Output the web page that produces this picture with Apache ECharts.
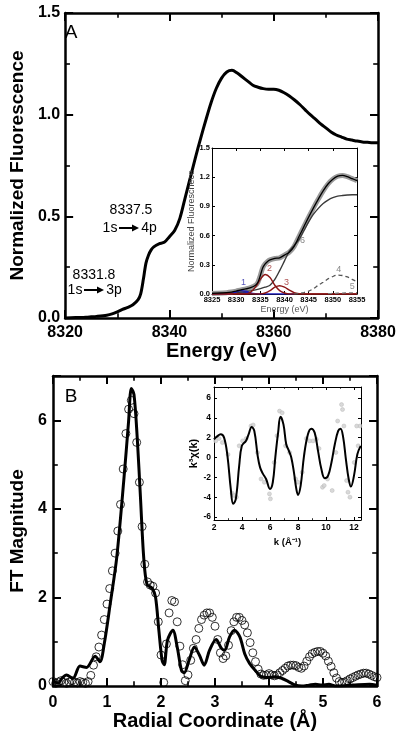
<!DOCTYPE html>
<html><head><meta charset="utf-8">
<script src="https://cdn.jsdelivr.net/npm/echarts@6/dist/echarts.min.js"></script>
<style>html,body{margin:0;padding:0;background:#fff}#c{width:400px;height:738px}</style>
</head><body><div id="c"></div>
<script>
// ---------- Panel A: XANES ----------
const xanesE = [8320,8322,8324,8325,8326,8328,8329,8330,8331,8332,8333,8334,8334.5,8335,8335.5,8336,8336.5,8337,8338,8339,
8340,8341,8342,8343,8344,8345,8346,8347,8348,8349,8350,8351,8352,8353,8354,8355,8356,8357,8358,8359,
8360,8361,8362,8363,8364,8365,8366,8367,8368,8369,8370,8371,8372,8373,8374,8375,8376,8377,8378,8379,8380];
const xanesMu = [0.000,0.002,0.004,0.006,0.008,0.014,0.020,0.030,0.042,0.052,0.065,0.090,0.120,0.190,0.270,0.310,0.335,0.350,0.365,0.372,
0.400,0.430,0.490,0.590,0.690,0.790,0.885,0.975,1.060,1.130,1.180,1.210,1.218,1.205,1.185,1.165,1.145,1.135,1.128,1.125,
1.125,1.120,1.108,1.092,1.072,1.050,1.025,1.000,0.978,0.955,0.935,0.915,0.900,0.890,0.880,0.875,0.870,0.866,0.864,0.862,0.862];

// inset A : fit components
const compE = [8325,8326,8327,8328,8329,8330,8331,8332,8333,8334,8335,8336,8337,8338,8339,8340,8341,8342,8343,8344,8345,8346,8347,8348,8349,8350,8351,8352,8353,8354,8355];
const peak1 = [0,0,0,0,0.005,0.02,0.035,0.03,0.012,0.003,0,0,0,0,0,0,0,0,null,null,null,null,null,null,null,null,null,null,null,null,null];
const peak2 = [0,0,0,0,0,0,0,0,0.02,0.07,0.15,0.20,0.17,0.09,0.035,0.01,0,0,0,0,0,0,0,0,0,0,0,0,0,0,0];
const peak3 = [0,0,0,0,0,0,0,0,0,0,0,0.01,0.035,0.07,0.085,0.07,0.04,0.015,0.004,0,0,0,0,0,0,0,0,0,0,0,0];
const peak4 = [null,null,null,null,null,null,null,null,null,null,null,null,null,null,null,null,null,0,0.005,0.015,0.03,0.055,0.09,0.12,0.155,0.18,0.195,0.19,0.175,0.15,0.125];
const peak5 = [null,null,null,null,null,null,null,null,null,null,null,null,null,null,null,null,null,null,null,null,null,null,null,null,0.004,0.006,0.008,0.01,0.012,0.013,0.014];
const edge6 = [0.005,0.006,0.008,0.010,0.012,0.015,0.020,0.025,0.032,0.042,0.055,0.070,0.090,0.150,0.240,0.340,0.440,0.500,0.560,0.650,0.740,0.820,0.880,0.930,0.965,0.990,1.005,1.012,1.017,1.020,1.020];
const compLabels = [['1',8331.5,0.116,'#2a2aa8'],['2',8336.9,0.264,'#9b2a2a'],['3',8340.4,0.12,'#9b2a2a'],['4',8351.2,0.254,'#666'],['5',8354.0,0.076,'#777'],['6',8343.7,0.547,'#666']];

// ---------- Panel B: EXAFS FT ----------
const ftR = [0.00,0.05,0.10,0.15,0.20,0.25,0.30,0.35,0.40,0.45,0.50,0.55,0.60,0.65,0.70,0.75,0.80,0.85,0.90,0.95,
1.00,1.05,1.10,1.15,1.20,1.25,1.30,1.35,1.40,1.45,1.50,1.55,1.60,1.65,1.70,1.75,1.80,1.85,1.90,1.95,
2.00,2.05,2.10,2.15,2.20,2.25,2.30,2.35,2.40,2.45,2.50,2.55,2.60,2.65,2.70,2.75,2.80,2.85,2.90,2.95,
3.00,3.05,3.10,3.15,3.20,3.25,3.30,3.35,3.40,3.45,3.50,3.55,3.60,3.65,3.70,3.75,3.80,3.85,3.90,3.95,
4.00,4.05,4.10,4.15,4.20,4.25,4.30,4.35,4.40,4.45,4.50,4.55,4.60,4.65,4.70,4.75,4.80,4.85,4.90,4.95,
5.00,5.05,5.10,5.15,5.20,5.25,5.30,5.35,5.40,5.45,5.50,5.55,5.60,5.65,5.70,5.75,5.80,5.85,5.90,5.95,6.00];
const ftData = [0.10,0.06,0.09,0.12,0.08,0.06,0.09,0.12,0.09,0.07,0.10,0.08,0.06,0.10,0.24,0.47,0.66,0.88,1.15,1.50,
1.85,2.20,2.60,3.00,3.50,4.10,4.90,5.70,6.25,6.45,6.15,5.50,4.60,3.60,2.75,2.35,2.28,2.25,2.10,1.45,
0.70,0.08,0.95,1.65,1.93,1.90,1.45,0.90,0.48,0.12,0.25,0.58,0.85,1.05,1.30,1.50,1.60,1.65,1.65,1.55,
1.35,1.05,0.75,0.62,0.68,0.92,1.25,1.45,1.55,1.55,1.48,1.38,1.20,0.98,0.75,0.55,0.38,0.27,0.24,0.25,
0.28,0.25,0.23,0.25,0.30,0.35,0.40,0.45,0.47,0.47,0.46,0.42,0.40,0.45,0.56,0.66,0.73,0.76,0.78,0.78,
0.74,0.68,0.56,0.44,0.30,0.18,0.10,0.08,0.09,0.12,0.16,0.19,0.22,0.25,0.27,0.29,0.29,0.27,0.24,0.21,0.19];
const fitR = [0.00,0.09,0.17,0.25,0.37,0.50,0.62,0.78,0.87,0.95,1.06,1.18,1.31,1.40,1.45,1.50,1.56,1.62,1.68,1.74,1.84,1.90,1.96,2.02,2.06,2.12,2.22,2.30,2.38,2.43,2.52,2.62,2.71,2.80,2.90,3.02,3.12,3.18,3.27,3.36,3.46,3.55,3.64,3.74,3.86,3.99,4.11,4.24,4.36,4.49,4.61,4.74,4.86,4.98,5.11,5.23,5.55,5.86,6.00];
const fitV = [0.13,0.06,0.18,0.25,0.17,0.45,0.42,0.67,0.55,0.96,1.86,2.90,4.63,5.98,6.72,6.58,5.60,4.25,2.90,2.30,2.20,2.00,1.26,0.58,0.48,1.03,1.26,0.88,0.35,0.30,0.58,0.88,0.70,0.47,0.81,1.05,0.85,0.81,1.11,1.26,1.11,0.73,0.51,0.36,0.21,0.19,0.21,0.17,0.10,0.02,0.00,0.02,0.04,0.02,0.04,0.00,0.02,0.04,0.02];

// inset B: k^3 chi(k)
const kFit = [2.0,2.2,2.48,2.72,2.96,3.2,3.37,3.56,3.8,3.99,4.28,4.47,4.69,4.88,5.12,5.29,5.48,5.72,6.0,6.2,6.39,6.58,6.75,6.96,7.16,7.35,7.52,7.71,7.88,8.0,8.19,8.43,8.71,8.95,9.19,9.43,9.67,9.91,10.15,10.39,10.63,10.87,11.04,11.23,11.42,11.62,11.78,12.0,12.24,12.48];
const chiFit = [1.83,2.1,2.33,2.0,0.17,-3.2,-4.67,-4.17,-0.83,1.17,1.67,2.33,3.07,2.67,0.17,-1.0,-1.6,-2.17,-3.17,-2.5,0.17,2.5,4.1,3.33,1.33,0.67,0.0,-1.5,-3.17,-3.77,-2.83,0.17,2.33,2.9,2.5,0.67,-1.17,-2.1,-1.83,-0.5,1.33,2.67,2.9,2.0,-0.17,-2.17,-2.93,-1.83,0.33,1.17];
const kData = [2.12,2.36,2.6,3.0,3.3,3.44,3.6,3.8,4.04,4.3,4.64,4.8,5.1,5.36,5.6,5.96,6.03,6.3,6.5,6.68,6.87,7.11,7.4,7.83,8.0,8.3,8.6,8.83,9.07,9.31,9.5,9.75,9.87,10.11,10.44,10.7,10.83,11.11,11.18,11.28,11.47,11.57,11.71,12.02,12.19,12.3,12.43];
const chiData = [1.67,1.9,1.5,0.3,-3.6,-3.83,-4.0,1.17,1.67,1.9,3.17,3.27,0.5,-2.17,-2.5,-3.67,-4.17,-0.5,2.2,4.67,4.5,1.17,0.5,-2.17,-2.5,-1.5,1.9,1.67,1.67,1.83,0.9,-3.0,-2.83,-2.17,-3.33,0.5,3.67,5.33,4.83,3.17,-2.33,-3.5,-4.0,-0.5,3.17,1.17,3.17];
const chiTicks = [-6,-4,-2,0,2,4,6];

const F = 'Liberation Sans, Arial, Helvetica, sans-serif';
const zip = (a,b) => a.map((v,i)=>[v,b[i]]);
const plain = v => String(v);

function axis(o){
  const base = {
    type:'value', gridIndex:o.g, min:o.min, max:o.max, position:o.pos, z:o.z||0,
    axisLine:{show:true,onZero:false,lineStyle:{color:'#000',width:o.lw}},
    axisTick:{show:true,inside:true,length:o.tl,lineStyle:{color:'#000',width:o.tw}},
    splitLine:{show:false},
    axisLabel:{show:!!o.label,color:'#000',fontFamily:F,fontWeight:'bold',fontSize:o.fs,margin:o.margin,
      formatter:o.fmt||plain, showMaxLabel:o.hideMax?false:null},
    minorTick:{show:!!o.minor,splitNumber:o.minor||2,length:o.tl*0.6,lineStyle:{color:'#000',width:o.tw*0.8}}
  };
  if(o.interval!=null) base.interval=o.interval;
  if(o.custom){ base.axisLabel.customValues=o.custom; base.axisTick.customValues=o.custom; }
  if(o.name){ base.name=o.name; base.nameLocation='middle'; base.nameGap=o.gap;
    base.nameTextStyle={fontFamily:F,fontWeight:o.nw||'bold',fontSize:o.nfs,color:o.nc||'#000'}; }
  return base;
}

const xAxis = [
  axis({g:0,min:8320,max:8380,interval:20,pos:'bottom',lw:2.5,tl:8,tw:2,minor:2,label:1,fs:16,margin:7,name:'Energy (eV)',gap:22,nfs:20}),
  axis({g:0,min:8320,max:8380,interval:20,pos:'top',lw:2.5,tl:8,tw:2,minor:2}),
  axis({g:1,min:8325,max:8355,interval:5,pos:'bottom',lw:1,tl:3,tw:1,label:1,fs:7.5,margin:2,z:6,name:'Energy (eV)',gap:10,nfs:9,nw:'normal',nc:'#555'}),
  axis({g:1,min:8325,max:8355,interval:5,pos:'top',lw:1,tl:3,tw:1,z:6}),
  axis({g:2,min:0,max:6,interval:1,pos:'bottom',lw:2.5,tl:8,tw:2,minor:2,label:1,fs:16,margin:9,name:'Radial Coordinate (Å)',gap:22,nfs:20}),
  axis({g:2,min:0,max:6,interval:1,pos:'top',lw:2.5,tl:8,tw:2,minor:2}),
  axis({g:3,min:2,max:12.5,interval:2,pos:'bottom',lw:1,tl:3,tw:1,minor:2,label:1,fs:8.5,margin:3,z:6,hideMax:true,name:'k (Å⁻¹)',gap:17,nfs:9.5}),
  axis({g:3,min:2,max:12.5,interval:2,pos:'top',lw:1,tl:3,tw:1,minor:2,z:6})
];
const yAxis = [
  axis({g:0,min:0,max:1.5,interval:0.5,pos:'left',lw:2.5,tl:8,tw:2,minor:2,label:1,fs:16,margin:5,fmt:v=>v.toFixed(1),name:'Normalized Fluorescence',gap:27,nfs:19}),
  axis({g:0,min:0,max:1.5,interval:0.5,pos:'right',lw:2.5,tl:8,tw:2,minor:2}),
  axis({g:1,min:0,max:1.5,interval:0.3,pos:'left',lw:1,tl:3,tw:1,label:1,fs:7.5,margin:2,z:6,fmt:v=>v.toFixed(1),name:'Normalized Fluorescnece',gap:10,nfs:9,nw:'normal',nc:'#444'}),
  axis({g:1,min:0,max:1.5,interval:0.3,pos:'right',lw:1,tl:3,tw:1,z:6}),
  axis({g:2,min:0,max:7,interval:2,pos:'left',lw:2.5,tl:8,tw:2,minor:2,label:1,fs:16,margin:6,hideMax:true,name:'FT Magnitude',gap:21,nfs:19}),
  axis({g:2,min:0,max:7,interval:2,pos:'right',lw:2.5,tl:8,tw:2,minor:2}),
  axis({g:3,min:-6.3,max:7.1,pos:'left',lw:1,tl:3,tw:1,label:1,fs:8.5,margin:3,z:6,custom:chiTicks,name:'k³χ(k)',gap:10,nfs:11}),
  axis({g:3,min:-6.3,max:7.1,pos:'right',lw:1,tl:3,tw:1,z:6,custom:chiTicks})
];

const inA = ()=>({xAxisIndex:2,yAxisIndex:2,z:7});
const insetTotal = zip(xanesE,xanesMu).filter(p=>p[0]>=8325&&p[0]<=8355);
const series = [
  {type:'line',xAxisIndex:0,yAxisIndex:0,data:zip(xanesE,xanesMu),showSymbol:false,smooth:0.3,lineStyle:{color:'#000',width:3},z:2},
  // inset A
  Object.assign({type:'line',data:insetTotal,showSymbol:false,smooth:0.3,lineStyle:{color:'#9a9a9a',width:5}},inA()),
  Object.assign({type:'line',data:zip(compE,edge6),showSymbol:false,smooth:0.3,lineStyle:{color:'#3a3a3a',width:1.4}},inA()),
  Object.assign({type:'line',data:zip(compE,peak1),showSymbol:false,smooth:0.3,lineStyle:{color:'#1c1cc0',width:1.3},areaStyle:{color:'#1c1cc0',opacity:1}},inA()),
  Object.assign({type:'line',data:zip(compE,peak2),showSymbol:false,smooth:0.3,lineStyle:{color:'#8b1515',width:1.4}},inA()),
  Object.assign({type:'line',data:zip(compE,peak3),showSymbol:false,smooth:0.3,lineStyle:{color:'#8b1515',width:1.4}},inA()),
  Object.assign({type:'line',data:zip(compE,peak4),showSymbol:false,smooth:0.3,lineStyle:{color:'#555',width:1.3,type:[4,3]}},inA()),
  Object.assign({type:'line',data:zip(compE,peak5),showSymbol:false,smooth:0.3,lineStyle:{color:'#777',width:1.2,type:[4,3]}},inA()),
  Object.assign({type:'line',data:insetTotal,showSymbol:false,smooth:0.3,lineStyle:{color:'#000',width:1.3}},inA()),
  Object.assign({type:'scatter',symbolSize:1,itemStyle:{color:'rgba(0,0,0,0)'},silent:true,
    data:compLabels.map(l=>({value:[l[1],l[2]],name:l[0],label:{color:l[3]}})),
    label:{show:true,position:'inside',formatter:p=>p.name,fontFamily:F,fontSize:9}},inA()),
  // Panel B
  {type:'scatter',xAxisIndex:4,yAxisIndex:4,data:zip(ftR,ftData),symbol:'circle',symbolSize:8,itemStyle:{color:'rgba(0,0,0,0)',borderColor:'#000',borderWidth:1},z:2},
  {type:'line',xAxisIndex:4,yAxisIndex:4,data:zip(fitR,fitV),showSymbol:false,smooth:0.3,lineStyle:{color:'#000',width:3},z:3},
  // inset B
  {type:'scatter',xAxisIndex:6,yAxisIndex:6,data:zip(kData,chiData),symbol:'circle',symbolSize:4,itemStyle:{color:'#d0d0d0',borderColor:'#b8b8b8',borderWidth:0.6},z:7},
  {type:'line',xAxisIndex:6,yAxisIndex:6,data:zip(kFit,chiFit),showSymbol:false,smooth:0.4,lineStyle:{color:'#000',width:2},z:8}
];

function T(text,x,y,size){return {type:'text',x:x,y:y,z:20,style:{text:text,fontFamily:F,fontSize:size,fill:'#000',align:'center',verticalAlign:'middle'}};}
function arrow(x1,x2,y){return [
  {type:'line',z:20,shape:{x1:x1,y1:y,x2:x2-5,y2:y},style:{stroke:'#000',lineWidth:2}},
  {type:'polygon',z:20,shape:{points:[[x2-7,y-3.5],[x2,y],[x2-7,y+3.5]]},style:{fill:'#000'}}
];}

const option = {
  backgroundColor:'#fff',
  animation:false,
  grid:[
    {left:53,top:13,width:325,height:305},
    {left:212,top:148,width:145,height:146,show:true,backgroundColor:'#fff',borderWidth:0,z:5},
    {left:53,top:376,width:324,height:310},
    {left:214,top:387,width:147,height:133,show:true,backgroundColor:'#fff',borderWidth:0,z:5}
  ],
  xAxis:xAxis, yAxis:yAxis, series:series,
  graphic:[
    T('A',71,33,19),
    T('B',71,397,19),
    T('8337.5',131,210,14),
    T('1s',110,228,14), ...arrow(119,139,228), T('4p',149,228,14),
    T('8331.8',94,275,14),
    T('1s',75,290,14), ...arrow(84,104,290), T('3p',114,290,14)
  ]
};
const chart = echarts.init(document.getElementById('c'));
chart.setOption(option);
</script></body></html>
